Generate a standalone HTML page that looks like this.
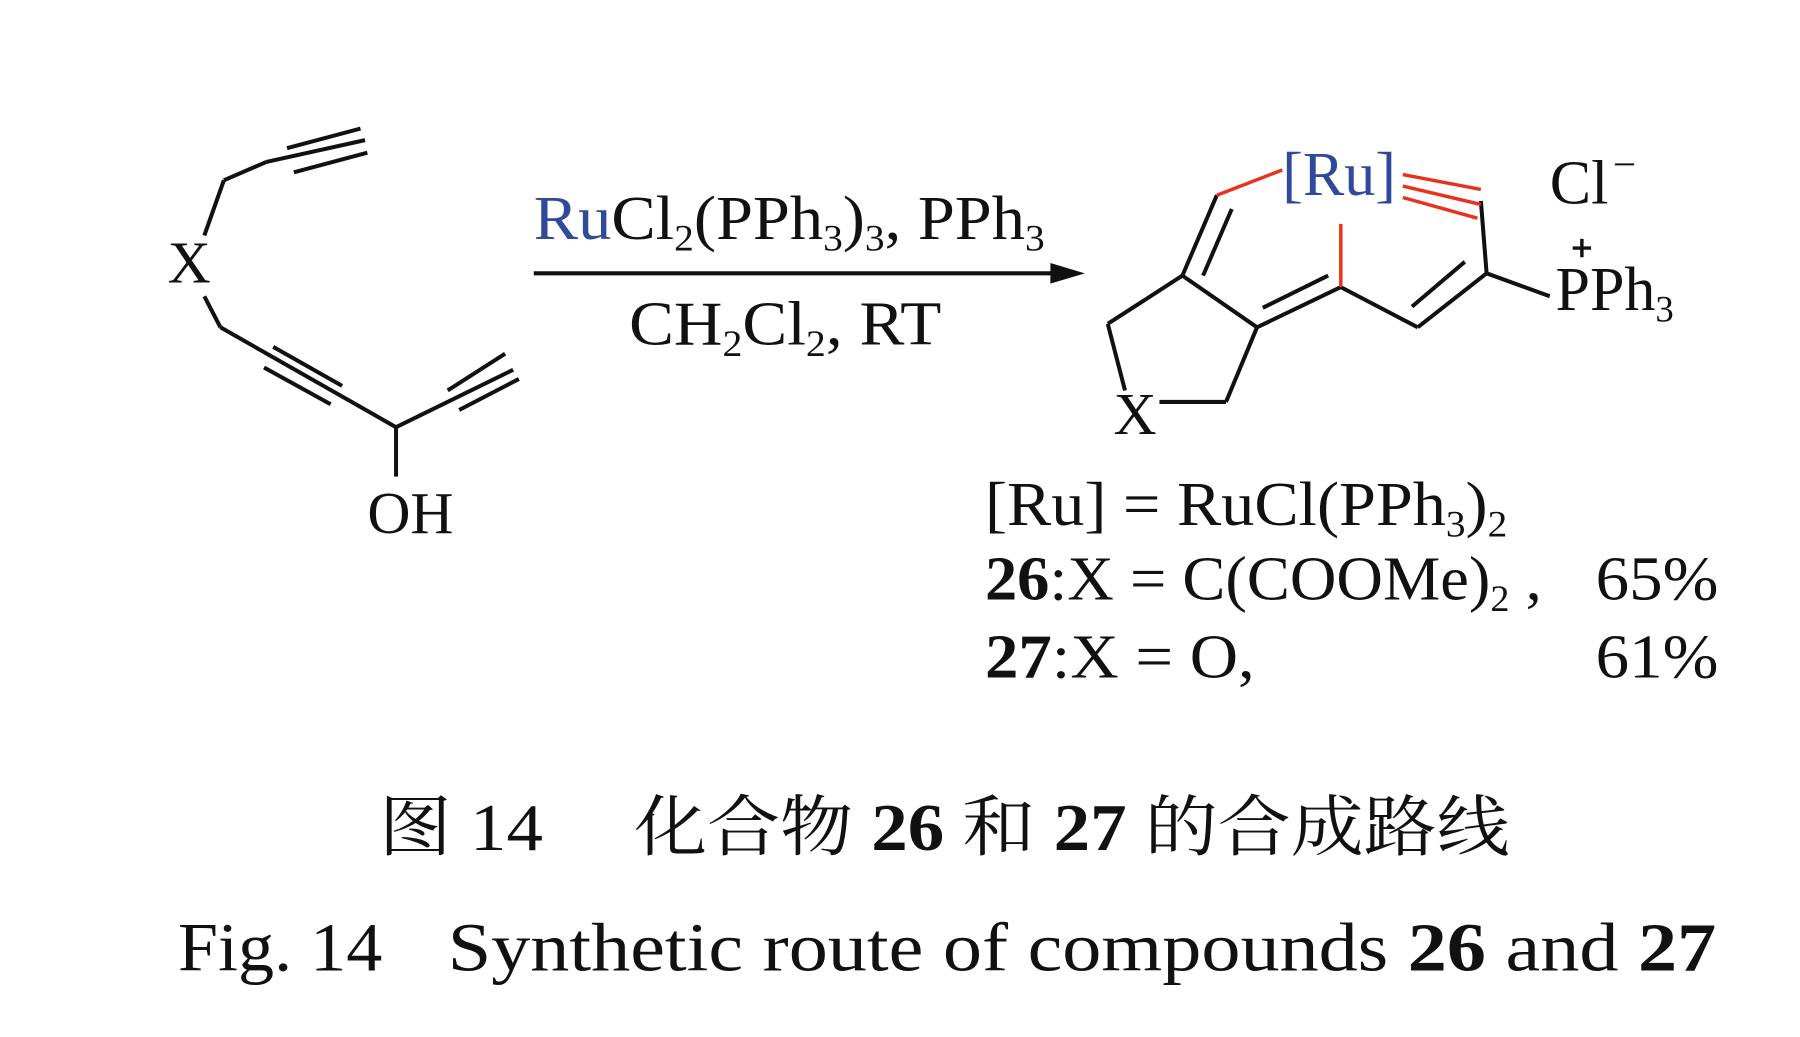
<!DOCTYPE html>
<html><head><meta charset="utf-8"><style>
html,body{margin:0;padding:0;background:#fff;}
svg{display:block;}
text{font-family:"Liberation Serif","Noto Serif CJK SC",serif;fill:#111;}
</style></head><body>
<svg width="1800" height="1037" viewBox="0 0 1568 903" preserveAspectRatio="none" xmlns="http://www.w3.org/2000/svg">
<g stroke="#111" stroke-width="3.5" fill="none" stroke-linecap="butt">
<!-- left molecule -->
<line x1="178" y1="205" x2="195" y2="157"/>
<line x1="195" y1="157" x2="232" y2="141"/>
<line x1="232" y1="141" x2="318" y2="122"/>
<line x1="250" y1="129" x2="314" y2="112"/>
<line x1="256" y1="150" x2="320" y2="133"/>
<line x1="178" y1="258" x2="192" y2="285"/>
<line x1="192" y1="285" x2="345" y2="372"/>
<line x1="238" y1="302" x2="298" y2="336"/>
<line x1="230" y1="320" x2="288" y2="352"/>
<line x1="345" y1="372" x2="447" y2="322"/>
<line x1="390" y1="340" x2="440" y2="308"/>
<line x1="400" y1="357" x2="452" y2="330"/>
<line x1="345" y1="372" x2="345" y2="415"/>
<!-- arrow -->
<line x1="465" y1="238" x2="925" y2="238"/>
<!-- product black -->
<line x1="1060" y1="170" x2="1030" y2="240"/>
<line x1="1073" y1="182" x2="1048" y2="240"/>
<line x1="1030" y1="240" x2="965" y2="282"/>
<line x1="965" y1="282" x2="980" y2="340"/>
<line x1="1010" y1="350" x2="1068" y2="350"/>
<line x1="1068" y1="350" x2="1095" y2="285"/>
<line x1="1030" y1="240" x2="1095" y2="285"/>
<line x1="1095" y1="285" x2="1168" y2="250"/>
<line x1="1100" y1="268" x2="1157" y2="240"/>
<line x1="1168" y1="250" x2="1235" y2="285"/>
<line x1="1235" y1="285" x2="1295" y2="238"/>
<line x1="1230" y1="267" x2="1276" y2="228"/>
<line x1="1295" y1="238" x2="1290" y2="175"/>
<line x1="1295" y1="238" x2="1350" y2="258"/>
<!-- plus sign -->
<line x1="1370" y1="216" x2="1386" y2="216" stroke-width="3"/>
<line x1="1378" y1="208" x2="1378" y2="224" stroke-width="3"/>
</g>
<polygon points="945,238 915,229 915,247" fill="#111"/>
<g stroke="#e8321e" stroke-width="3" fill="none">
<line x1="1060" y1="170" x2="1117" y2="148"/>
<line x1="1168" y1="195" x2="1168" y2="250"/>
<line x1="1222" y1="152" x2="1290" y2="165"/>
<line x1="1222" y1="162" x2="1290" y2="178"/>
<line x1="1222" y1="172" x2="1287" y2="190"/>
</g>
<text x="146" y="246" font-size="52">X</text>
<text x="320" y="464" font-size="52">OH</text>
<text x="465" y="208" font-size="54" textLength="445" lengthAdjust="spacingAndGlyphs"><tspan fill="#2f4a9a" style="fill:#2f4a9a">Ru</tspan>Cl<tspan font-size="32" dy="10">2</tspan><tspan dy="-10">(PPh</tspan><tspan font-size="32" dy="10">3</tspan><tspan dy="-10">)</tspan><tspan font-size="32" dy="10">3</tspan><tspan dy="-10">, PPh</tspan><tspan font-size="32" dy="10">3</tspan></text>
<text x="548" y="300" font-size="54" textLength="272" lengthAdjust="spacingAndGlyphs">CH<tspan font-size="32" dy="10">2</tspan><tspan dy="-10">Cl</tspan><tspan font-size="32" dy="10">2</tspan><tspan dy="-10">, RT</tspan></text>
<text x="1117" y="170" font-size="54" style="fill:#2f4a9a">[Ru]</text>
<text x="1350" y="177" font-size="54">Cl</text>
<text x="1405" y="155" font-size="36">−</text>
<text x="1355" y="270" font-size="54">PPh<tspan font-size="32" dy="10">3</tspan></text>
<text x="970" y="378" font-size="52">X</text>
<text x="858" y="457" font-size="54" textLength="455" lengthAdjust="spacingAndGlyphs">[Ru] = RuCl(PPh<tspan font-size="32" dy="10">3</tspan><tspan dy="-10">)</tspan><tspan font-size="32" dy="10">2</tspan></text>
<text x="858" y="522" font-size="54" textLength="485" lengthAdjust="spacingAndGlyphs"><tspan font-weight="bold">26</tspan>:X = C(COOMe)<tspan font-size="32" dy="10">2</tspan><tspan dy="-10"> ,</tspan></text>
<text x="1390" y="522" font-size="54" textLength="107" lengthAdjust="spacingAndGlyphs">65%</text>
<text x="858" y="590" font-size="54" textLength="235" lengthAdjust="spacingAndGlyphs"><tspan font-weight="bold">27</tspan>:X = O,</text>
<text x="1390" y="590" font-size="54" textLength="107" lengthAdjust="spacingAndGlyphs">61%</text>
<text x="330" y="740" font-size="58" textLength="985" lengthAdjust="spacingAndGlyphs">图 14　 化合物 <tspan font-weight="bold">26</tspan> 和 <tspan font-weight="bold">27</tspan> 的合成路线</text>
<text x="155" y="845" font-size="60" textLength="178" lengthAdjust="spacingAndGlyphs">Fig. 14</text>
<text x="390" y="845" font-size="60" textLength="1105" lengthAdjust="spacingAndGlyphs">Synthetic route of compounds <tspan font-weight="bold">26</tspan> and <tspan font-weight="bold">27</tspan></text>
</svg>
</body></html>
